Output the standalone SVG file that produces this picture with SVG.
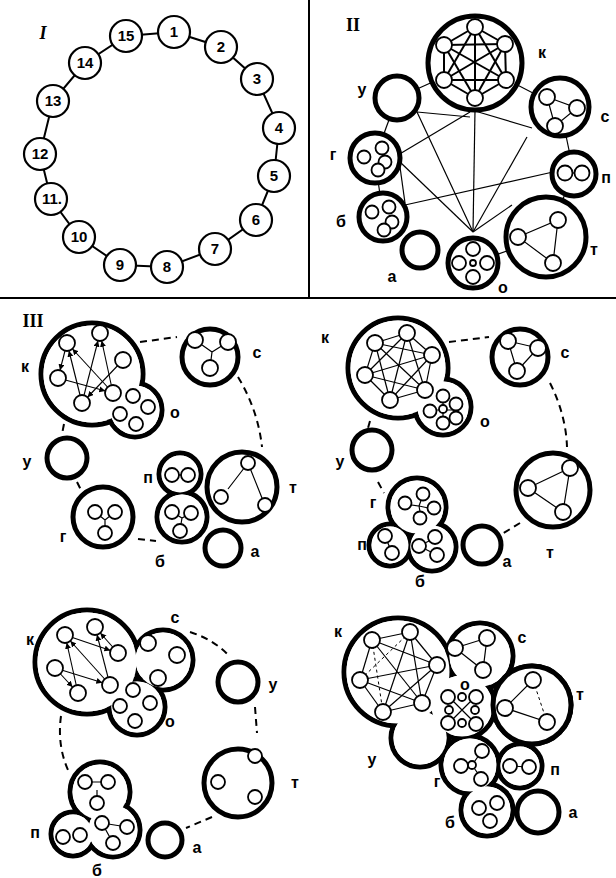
<svg xmlns="http://www.w3.org/2000/svg" width="616" height="878" viewBox="0 0 616 878">
<style>
.ring{fill:#fff;stroke:#000;stroke-width:5}
.fw{fill:#fff;stroke:none}
.c1{fill:#fff;stroke:#000;stroke-width:2.2}
.n{fill:#fff;stroke:#000;stroke-width:1.8}
.e{stroke:#000;stroke-width:1.2;fill:none}
.ea{stroke:#000;stroke-width:1.1;fill:none;marker-end:url(#ar)}
.d{stroke:#000;stroke-width:2;stroke-dasharray:7 5;fill:none}
.dt{stroke:#000;stroke-width:1;stroke-dasharray:3 3;fill:none}
.k{stroke:#000;stroke-width:2;fill:none}
.lbl{font-family:"Liberation Sans",Arial,sans-serif;font-weight:bold;font-size:16px;text-anchor:middle}
.num{font-family:"Liberation Sans",Arial,sans-serif;font-weight:bold;font-size:15px;text-anchor:middle}
.rom{font-family:"Liberation Serif","Times New Roman",serif;font-weight:bold;font-size:18px;text-anchor:middle}
</style>
<defs>
<marker id="ar" markerUnits="userSpaceOnUse" markerWidth="20" markerHeight="10" refX="14" refY="3" orient="auto"><path d="M0,0 L6,3 L0,6 z" fill="#000"/></marker>
</defs>
<rect width="616" height="878" fill="#fff"/>
<g id="frame" stroke="#000" stroke-width="2">
<line x1="309" y1="0" x2="309" y2="298"/>
<line x1="0" y1="298" x2="616" y2="298"/>
</g>
<text class="rom" x="43" y="39" font-style="italic">I</text>
<text class="rom" x="353" y="31">II</text>
<text class="rom" x="33" y="327">III</text>

<!-- Panel I -->
<g id="p1-connectors">
<polygon class="k" points="174,32 221,47 257,79 279,128 274,176 256,220 215,249 167,267 120,265 79,237 51,199 40,154 53,101 85,63 126,36"/>
</g>
<g id="p1-n1"><circle class="c1" cx="174" cy="32" r="16"/><text class="num" x="174" y="37">1</text></g>
<g id="p1-n2"><circle class="c1" cx="221" cy="47" r="16"/><text class="num" x="221" y="52">2</text></g>
<g id="p1-n3"><circle class="c1" cx="257" cy="79" r="16"/><text class="num" x="257" y="84">3</text></g>
<g id="p1-n4"><circle class="c1" cx="279" cy="128" r="16"/><text class="num" x="279" y="133">4</text></g>
<g id="p1-n5"><circle class="c1" cx="274" cy="176" r="16"/><text class="num" x="274" y="181">5</text></g>
<g id="p1-n6"><circle class="c1" cx="256" cy="220" r="16"/><text class="num" x="256" y="225">6</text></g>
<g id="p1-n7"><circle class="c1" cx="215" cy="249" r="16"/><text class="num" x="215" y="254">7</text></g>
<g id="p1-n8"><circle class="c1" cx="167" cy="267" r="16"/><text class="num" x="167" y="272">8</text></g>
<g id="p1-n9"><circle class="c1" cx="120" cy="265" r="16"/><text class="num" x="120" y="270">9</text></g>
<g id="p1-n10"><circle class="c1" cx="79" cy="237" r="16"/><text class="num" x="79" y="242">10</text></g>
<g id="p1-n11"><circle class="c1" cx="51" cy="199" r="16"/><text class="num" x="52" y="204">11.</text></g>
<g id="p1-n12"><circle class="c1" cx="40" cy="154" r="16"/><text class="num" x="40" y="159">12</text></g>
<g id="p1-n13"><circle class="c1" cx="53" cy="101" r="16"/><text class="num" x="53" y="106">13</text></g>
<g id="p1-n14"><circle class="c1" cx="85" cy="63" r="16"/><text class="num" x="85" y="68">14</text></g>
<g id="p1-n15"><circle class="c1" cx="126" cy="36" r="16"/><text class="num" x="126" y="41">15</text></g>

<!-- Panel II -->
<g id="p2-connectors" class="e">
<line x1="397" y1="98" x2="475" y2="63"/>
<line x1="475" y1="63" x2="560" y2="107"/>
<line x1="560" y1="107" x2="574" y2="174"/>
<line x1="574" y1="174" x2="546" y2="237"/>
<line x1="546" y1="237" x2="473" y2="263"/>
<line x1="383" y1="217" x2="375" y2="158"/>
<line x1="375" y1="158" x2="397" y2="98"/>
<line x1="473" y1="232" x2="475" y2="110"/>
<line x1="473" y1="232" x2="527" y2="137"/>
<line x1="473" y1="232" x2="417" y2="112"/>
<line x1="473" y1="232" x2="400" y2="162"/>
<line x1="473" y1="232" x2="512" y2="205"/>
<line x1="417" y1="112" x2="470" y2="117"/>
<line x1="475" y1="111" x2="532" y2="128"/>
<line x1="470" y1="112" x2="398" y2="155"/>
<line x1="400" y1="167" x2="405" y2="203"/>
<line x1="405" y1="205" x2="553" y2="172"/>
</g>
<g id="p2-k">
<circle class="ring" cx="475" cy="63" r="47"/>
<g class="k" stroke-width="1.5">
<line x1="475" y1="27" x2="505" y2="44"/><line x1="475" y1="27" x2="506" y2="80"/><line x1="475" y1="27" x2="475" y2="98"/><line x1="475" y1="27" x2="444" y2="80"/><line x1="475" y1="27" x2="444" y2="45"/>
<line x1="505" y1="44" x2="506" y2="80"/><line x1="505" y1="44" x2="475" y2="98"/><line x1="505" y1="44" x2="444" y2="80"/><line x1="505" y1="44" x2="444" y2="45"/>
<line x1="506" y1="80" x2="475" y2="98"/><line x1="506" y1="80" x2="444" y2="80"/><line x1="506" y1="80" x2="444" y2="45"/>
<line x1="475" y1="98" x2="444" y2="80"/><line x1="475" y1="98" x2="444" y2="45"/>
<line x1="444" y1="80" x2="444" y2="45"/>
</g>
<circle class="n" cx="475" cy="27" r="8"/><circle class="n" cx="505" cy="44" r="8"/><circle class="n" cx="506" cy="80" r="8"/><circle class="n" cx="475" cy="98" r="8"/><circle class="n" cx="444" cy="80" r="8"/><circle class="n" cx="444" cy="45" r="8"/>
<text class="lbl" x="542" y="58">к</text>
</g>
<g id="p2-u"><circle class="ring" cx="397" cy="98" r="22"/><text class="lbl" x="362" y="95">у</text></g>
<g id="p2-s">
<circle class="ring" cx="560" cy="107" r="29"/>
<polygon class="e" points="547,97 577,108 555,126"/>
<circle class="n" cx="547" cy="97" r="8"/><circle class="n" cx="577" cy="108" r="8"/><circle class="n" cx="555" cy="126" r="8"/>
<text class="lbl" x="605" y="122">с</text>
</g>
<g id="p2-p">
<circle class="ring" cx="574" cy="174" r="22"/>
<line class="e" x1="564" y1="173" x2="583" y2="173"/>
<circle class="n" cx="565" cy="173" r="7.5"/><circle class="n" cx="582" cy="173" r="7.5"/>
<text class="lbl" x="606" y="183">п</text>
</g>
<g id="p2-t">
<circle class="ring" cx="546" cy="237" r="40"/>
<polygon class="e" points="518,237 558,220 553,263"/>
<circle class="n" cx="518" cy="237" r="8"/><circle class="n" cx="558" cy="220" r="8"/><circle class="n" cx="553" cy="263" r="8"/>
<text class="lbl" x="594" y="255">т</text>
</g>
<g id="p2-o">
<circle class="ring" cx="473" cy="263" r="25"/>
<circle class="n" cx="473" cy="263" r="3"/>
<circle class="n" cx="473" cy="249" r="7"/><circle class="n" cx="459" cy="263" r="7"/><circle class="n" cx="487" cy="263" r="7"/><circle class="n" cx="473" cy="277" r="7"/>
<text class="lbl" x="503" y="293">о</text>
</g>
<g id="p2-a"><circle class="ring" cx="420" cy="250" r="18"/><text class="lbl" x="392" y="282">а</text></g>
<g id="p2-b">
<circle class="ring" cx="383" cy="217" r="24"/>
<circle class="n" cx="372" cy="212" r="6.5"/><circle class="n" cx="389" cy="207" r="6.5"/><circle class="n" cx="392" cy="222" r="6.5"/><circle class="n" cx="384" cy="230" r="6.5"/>
<text class="lbl" x="341" y="227">б</text>
</g>
<g id="p2-g">
<circle class="ring" cx="375" cy="158" r="25"/>
<circle class="n" cx="364" cy="157" r="6.5"/><circle class="n" cx="382" cy="148" r="6.5"/><circle class="n" cx="385" cy="162" r="6.5"/><circle class="n" cx="378" cy="170" r="6.5"/>
<text class="lbl" x="333" y="160">г</text>
</g>

<!-- Panel III A (top-left) -->
<g id="a-connectors">
<path class="d" d="M140,342 L177,337"/>
<path class="d" d="M238,377 Q258,410 262,447"/>
<path class="d" d="M64,424 L62,434"/>
<path class="d" d="M77,482 L83,494"/>
<path class="d" d="M138,539 L156,541"/>
</g>
<g id="a-ko">
<circle class="ring" cx="92" cy="374" r="51"/><circle class="ring" cx="135" cy="410" r="27"/>
<circle class="fw" cx="92" cy="374" r="48.5"/><circle class="fw" cx="135" cy="410" r="24.5"/>
<line class="ea" x1="82" y1="403" x2="67" y2="343"/>
<line class="ea" x1="113" y1="393" x2="67" y2="343"/>
<line class="ea" x1="113" y1="393" x2="100" y2="333"/>
<line class="ea" x1="82" y1="403" x2="100" y2="333"/>
<line class="ea" x1="58" y1="378" x2="113" y2="393"/>
<line class="ea" x1="123" y1="360" x2="82" y2="403"/>
<line class="ea" x1="67" y1="343" x2="58" y2="378"/>
<circle class="n" cx="67" cy="343" r="8"/><circle class="n" cx="100" cy="333" r="8"/><circle class="n" cx="123" cy="360" r="8"/><circle class="n" cx="58" cy="378" r="8"/><circle class="n" cx="82" cy="403" r="8"/><circle class="n" cx="113" cy="393" r="8"/>
<circle class="n" cx="133" cy="396" r="7"/><circle class="n" cx="148" cy="407" r="7"/><circle class="n" cx="120" cy="414" r="7"/><circle class="n" cx="136" cy="424" r="7"/>
<text class="lbl" x="25" y="372">к</text><text class="lbl" x="175" y="418">о</text>
</g>
<g id="a-s">
<circle class="ring" cx="210" cy="357" r="28"/>
<path class="e" d="M195,340 L212,352 L228,342 M212,352 L210,368"/>
<circle class="n" cx="195" cy="340" r="8"/><circle class="n" cx="228" cy="342" r="8"/><circle class="n" cx="210" cy="368" r="8"/>
<text class="lbl" x="257" y="358">с</text>
</g>
<g id="a-t">
<circle class="ring" cx="242" cy="487" r="35"/>
<path class="e" d="M248,463 L228,489 M248,463 L262,498"/>
<circle class="n" cx="248" cy="463" r="7"/><circle class="n" cx="221" cy="497" r="7"/><circle class="n" cx="265" cy="505" r="7"/>
<text class="lbl" x="293" y="493">т</text>
</g>
<g id="a-pb">
<circle class="ring" cx="180" cy="474" r="21"/><circle class="ring" cx="182" cy="517" r="25"/>
<circle class="fw" cx="180" cy="474" r="18.5"/><circle class="fw" cx="182" cy="517" r="22.5"/>
<line class="e" x1="172" y1="475" x2="188" y2="475"/>
<path class="e" d="M172,512 L182,518 L191,513 M182,518 L180,530"/>
<circle class="n" cx="172" cy="475" r="7"/><circle class="n" cx="188" cy="475" r="7"/>
<circle class="n" cx="172" cy="512" r="7"/><circle class="n" cx="191" cy="513" r="7"/><circle class="n" cx="180" cy="531" r="7"/>
<text class="lbl" x="148" y="483">п</text><text class="lbl" x="160" y="567">б</text>
</g>
<g id="a-a"><circle class="ring" cx="223" cy="548" r="18"/><text class="lbl" x="255" y="557">а</text></g>
<g id="a-g">
<circle class="ring" cx="103" cy="517" r="30"/>
<path class="e" d="M95,512 L105,520 L115,512 M105,520 L105,533"/>
<circle class="n" cx="95" cy="512" r="7"/><circle class="n" cx="115" cy="512" r="7"/><circle class="n" cx="105" cy="533" r="7"/>
<text class="lbl" x="63" y="542">г</text>
</g>
<g id="a-u"><circle class="ring" cx="67" cy="458" r="20"/><text class="lbl" x="27" y="467">у</text></g>

<!-- Panel III B (top-right) -->
<g id="b-connectors">
<path class="d" d="M449,342 L489,337"/>
<path class="d" d="M550,383 Q566,415 567,447"/>
<path class="d" d="M520,523 L502,534"/>
<path class="d" d="M378,482 L384,493"/>
<path class="d" d="M370,421 L368,428"/>
</g>
<g id="b-ko">
<circle class="ring" cx="398" cy="368" r="50"/><circle class="ring" cx="443" cy="407" r="28"/>
<circle class="fw" cx="398" cy="368" r="47.5"/><circle class="fw" cx="443" cy="407" r="25.5"/>
<g class="e" stroke-width="1.4">
<line x1="407" y1="333" x2="432" y2="355"/><line x1="407" y1="333" x2="375" y2="343"/><line x1="407" y1="333" x2="365" y2="375"/><line x1="407" y1="333" x2="390" y2="400"/><line x1="407" y1="333" x2="425" y2="390"/>
<line x1="432" y1="355" x2="375" y2="343"/><line x1="432" y1="355" x2="365" y2="375"/><line x1="432" y1="355" x2="390" y2="400"/><line x1="432" y1="355" x2="425" y2="390"/>
<line x1="375" y1="343" x2="365" y2="375"/><line x1="375" y1="343" x2="390" y2="400"/><line x1="375" y1="343" x2="425" y2="390"/>
<line x1="365" y1="375" x2="390" y2="400"/><line x1="365" y1="375" x2="425" y2="390"/>
<line x1="390" y1="400" x2="425" y2="390"/>
</g>
<circle class="n" cx="407" cy="333" r="8"/><circle class="n" cx="432" cy="355" r="8"/><circle class="n" cx="375" cy="343" r="8"/><circle class="n" cx="365" cy="375" r="8"/><circle class="n" cx="390" cy="400" r="8"/><circle class="n" cx="425" cy="390" r="8"/>
<path class="e" d="M443,397 L443,423 M430,410 L457,410"/>
<circle class="n" cx="443" cy="409" r="4"/>
<circle class="n" cx="443" cy="396" r="6.5"/><circle class="n" cx="456" cy="404" r="6.5"/><circle class="n" cx="430" cy="411" r="6.5"/><circle class="n" cx="443" cy="423" r="6.5"/><circle class="n" cx="456" cy="418" r="6.5"/>
<text class="lbl" x="325" y="343">к</text><text class="lbl" x="485" y="427">о</text>
</g>
<g id="b-s">
<circle class="ring" cx="520" cy="357" r="28"/>
<polygon class="e" points="508,341 538,348 517,371"/>
<circle class="n" cx="508" cy="341" r="8"/><circle class="n" cx="538" cy="348" r="8"/><circle class="n" cx="517" cy="371" r="8"/>
<text class="lbl" x="565" y="358">с</text>
</g>
<g id="b-t">
<circle class="ring" cx="553" cy="490" r="37"/>
<polygon class="e" points="528,488 570,468 563,512"/>
<circle class="n" cx="528" cy="488" r="8"/><circle class="n" cx="570" cy="468" r="8"/><circle class="n" cx="563" cy="512" r="8"/>
<text class="lbl" x="550" y="558">т</text>
</g>
<g id="b-a"><circle class="ring" cx="482" cy="545" r="19"/><text class="lbl" x="507" y="567">а</text></g>
<g id="b-u"><circle class="ring" cx="372" cy="450" r="20"/><text class="lbl" x="340" y="467">у</text></g>
<g id="b-gpb">
<circle class="ring" cx="417" cy="507" r="29"/><circle class="ring" cx="390" cy="545" r="21"/><circle class="ring" cx="432" cy="547" r="24"/>
<circle class="fw" cx="417" cy="507" r="26.5"/><circle class="fw" cx="390" cy="545" r="18.5"/><circle class="fw" cx="432" cy="547" r="21.5"/>
<path class="e" d="M405,504 L419,506 L423,495 M419,506 L433,509 M419,506 L421,517"/>
<circle class="n" cx="405" cy="503" r="6.5"/><circle class="n" cx="423" cy="494" r="6.5"/><circle class="n" cx="434" cy="508" r="6.5"/><circle class="n" cx="420" cy="518" r="6.5"/>
<line class="e" x1="385" y1="536" x2="392" y2="553"/>
<circle class="n" cx="385" cy="536" r="7"/><circle class="n" cx="392" cy="553" r="7"/>
<path class="e" d="M419,546 L435,538 M419,546 L437,555"/>
<circle class="n" cx="419" cy="546" r="7"/><circle class="n" cx="435" cy="537" r="7"/><circle class="n" cx="437" cy="555" r="7"/>
<text class="lbl" x="373" y="508">г</text><text class="lbl" x="362" y="550">п</text><text class="lbl" x="420" y="587">б</text>
</g>

<!-- Panel III C (bottom-left) -->
<g id="c-connectors">
<path class="d" d="M190,632 Q215,640 230,657"/>
<path class="d" d="M255,707 L257,733"/>
<path class="d" d="M212,817 L186,828"/>
<path class="d" d="M61,716 Q57,745 68,770"/>
</g>
<g id="c-kso">
<circle class="ring" cx="87" cy="662" r="52"/><circle class="ring" cx="163" cy="660" r="30"/><circle class="ring" cx="137" cy="707" r="28"/>
<circle class="fw" cx="87" cy="662" r="49.5"/><circle class="fw" cx="163" cy="660" r="27.5"/><circle class="fw" cx="137" cy="707" r="25.5"/>
<line class="ea" x1="110" y1="685" x2="65" y2="635"/>
<line class="ea" x1="78" y1="693" x2="65" y2="635"/>
<line class="ea" x1="110" y1="685" x2="95" y2="627"/>
<line class="ea" x1="118" y1="653" x2="95" y2="627"/>
<line class="ea" x1="55" y1="668" x2="110" y2="685"/>
<line class="ea" x1="65" y1="635" x2="118" y2="653"/>
<line class="ea" x1="55" y1="668" x2="78" y2="693"/>
<circle class="n" cx="65" cy="635" r="8"/><circle class="n" cx="95" cy="627" r="8"/><circle class="n" cx="118" cy="653" r="8"/><circle class="n" cx="55" cy="668" r="8"/><circle class="n" cx="78" cy="693" r="8"/><circle class="n" cx="110" cy="685" r="8"/>
<circle class="n" cx="148" cy="643" r="8"/><circle class="n" cx="177" cy="655" r="8"/><circle class="n" cx="158" cy="678" r="8"/>
<circle class="n" cx="133" cy="690" r="7"/><circle class="n" cx="150" cy="703" r="7"/><circle class="n" cx="120" cy="706" r="7"/><circle class="n" cx="135" cy="721" r="7"/>
<text class="lbl" x="30" y="645">к</text><text class="lbl" x="175" y="623">с</text><text class="lbl" x="170" y="727">о</text>
</g>
<g id="c-u"><circle class="ring" cx="238" cy="682" r="20"/><text class="lbl" x="273" y="690">у</text></g>
<g id="c-t">
<circle class="ring" cx="238" cy="783" r="34"/>
<circle class="n" cx="255" cy="756" r="7"/><circle class="n" cx="218" cy="782" r="7"/><circle class="n" cx="255" cy="797" r="7"/>
<text class="lbl" x="295" y="788">т</text>
</g>
<g id="c-a"><circle class="ring" cx="165" cy="840" r="17"/><text class="lbl" x="197" y="853">а</text></g>
<g id="c-pb">
<circle class="ring" cx="100" cy="792" r="30"/><circle class="ring" cx="73" cy="834" r="22"/><circle class="ring" cx="113" cy="830" r="27"/>
<circle class="fw" cx="100" cy="792" r="27.5"/><circle class="fw" cx="73" cy="834" r="19.5"/><circle class="fw" cx="113" cy="830" r="24.5"/>
<path class="e" d="M85,782 L108,782 M97,790 L97,803 M102,823 L113,843 M102,823 L127,827"/>
<circle class="n" cx="85" cy="782" r="7"/><circle class="n" cx="108" cy="782" r="7"/><circle class="n" cx="97" cy="803" r="7"/>
<circle class="n" cx="63" cy="837" r="7"/><circle class="n" cx="80" cy="835" r="7"/>
<circle class="n" cx="102" cy="823" r="7"/><circle class="n" cx="127" cy="827" r="7"/><circle class="n" cx="113" cy="843" r="7"/>
<text class="lbl" x="35" y="838">п</text><text class="lbl" x="97" y="876">б</text>
</g>

<!-- Panel III D (bottom-right) -->
<g id="d-blob">
<circle class="ring" cx="398" cy="672" r="54"/><circle class="ring" cx="480" cy="656" r="33"/><circle class="ring" cx="462" cy="706" r="33"/><circle class="ring" cx="420" cy="738" r="29"/><circle class="ring" cx="470" cy="765" r="29"/><circle class="ring" cx="532" cy="705" r="39"/><circle class="ring" cx="520" cy="766" r="22"/><circle class="ring" cx="487" cy="810" r="26"/>
<circle class="fw" cx="398" cy="672" r="51.5"/><circle class="fw" cx="480" cy="656" r="30.5"/><circle class="fw" cx="462" cy="706" r="30.5"/><circle class="fw" cx="420" cy="738" r="26.5"/><circle class="fw" cx="470" cy="765" r="26.5"/><circle class="fw" cx="532" cy="705" r="36.5"/><circle class="fw" cx="520" cy="766" r="19.5"/><circle class="fw" cx="487" cy="810" r="23.5"/>
<circle class="ring" cx="532" cy="705" r="39"/>
<text class="lbl" x="338" y="637">к</text><text class="lbl" x="522" y="643">с</text><text class="lbl" x="580" y="700">т</text><text class="lbl" x="465" y="690">о</text><text class="lbl" x="372" y="765">у</text><text class="lbl" x="437" y="787">г</text><text class="lbl" x="555" y="775">п</text><text class="lbl" x="450" y="828">б</text>
</g>
<g id="d-k">
<g class="e" stroke-width="1.4">
<line x1="372" y1="640" x2="410" y2="632"/><line x1="372" y1="640" x2="437" y2="665"/><line x1="372" y1="640" x2="360" y2="680"/><line x1="372" y1="640" x2="422" y2="703"/>
<line x1="410" y1="632" x2="437" y2="665"/><line x1="410" y1="632" x2="383" y2="712"/><line x1="410" y1="632" x2="422" y2="703"/>
<line x1="437" y1="665" x2="360" y2="680"/><line x1="437" y1="665" x2="383" y2="712"/><line x1="437" y1="665" x2="422" y2="703"/>
<line x1="360" y1="680" x2="383" y2="712"/><line x1="360" y1="680" x2="422" y2="703"/>
<line x1="383" y1="712" x2="422" y2="703"/>
</g>
<line class="dt" x1="372" y1="640" x2="383" y2="712"/>
<line class="dt" x1="410" y1="632" x2="360" y2="680"/>
<circle class="n" cx="372" cy="640" r="8"/><circle class="n" cx="410" cy="632" r="8"/><circle class="n" cx="437" cy="665" r="8"/><circle class="n" cx="360" cy="680" r="8"/><circle class="n" cx="383" cy="712" r="8"/><circle class="n" cx="422" cy="703" r="8"/>
</g>
<g id="d-s">
<polygon class="e" points="455,648 487,638 483,670"/>
<circle class="n" cx="455" cy="648" r="8"/><circle class="n" cx="487" cy="638" r="8"/><circle class="n" cx="483" cy="670" r="8"/>
</g>
<g id="d-t">
<path class="e" d="M505,708 L533,680 M505,708 L547,722"/>
<line class="dt" x1="533" y1="680" x2="547" y2="722"/>
<circle class="n" cx="533" cy="680" r="8"/><circle class="n" cx="505" cy="708" r="8"/><circle class="n" cx="547" cy="722" r="8"/>
</g>
<g id="d-o">
<path class="e" d="M449,697 L475,723 M475,697 L449,723"/>
<circle class="n" cx="462" cy="697" r="4"/><circle class="n" cx="462" cy="723" r="4"/><circle class="n" cx="449" cy="710" r="4"/><circle class="n" cx="475" cy="710" r="4"/>
<circle class="n" cx="448" cy="697" r="7"/><circle class="n" cx="476" cy="697" r="7"/><circle class="n" cx="448" cy="723" r="7"/><circle class="n" cx="476" cy="724" r="7"/>
</g>
<g id="d-g">
<path class="e" d="M461,766 L472,765 L482,751 M472,765 L481,778"/>
<circle class="n" cx="472" cy="765" r="4"/>
<circle class="n" cx="461" cy="766" r="7"/><circle class="n" cx="482" cy="751" r="7"/><circle class="n" cx="481" cy="779" r="7"/>
</g>
<g id="d-p">
<line class="e" x1="510" y1="766" x2="529" y2="767"/>
<circle class="n" cx="510" cy="766" r="7"/><circle class="n" cx="529" cy="767" r="7"/>
</g>
<g id="d-b">
<circle class="n" cx="479" cy="808" r="7"/><circle class="n" cx="497" cy="803" r="7"/><circle class="n" cx="490" cy="821" r="7"/>
</g>
<g id="d-a"><circle class="ring" cx="538" cy="812" r="21"/><text class="lbl" x="573" y="818">а</text></g>
</svg>
